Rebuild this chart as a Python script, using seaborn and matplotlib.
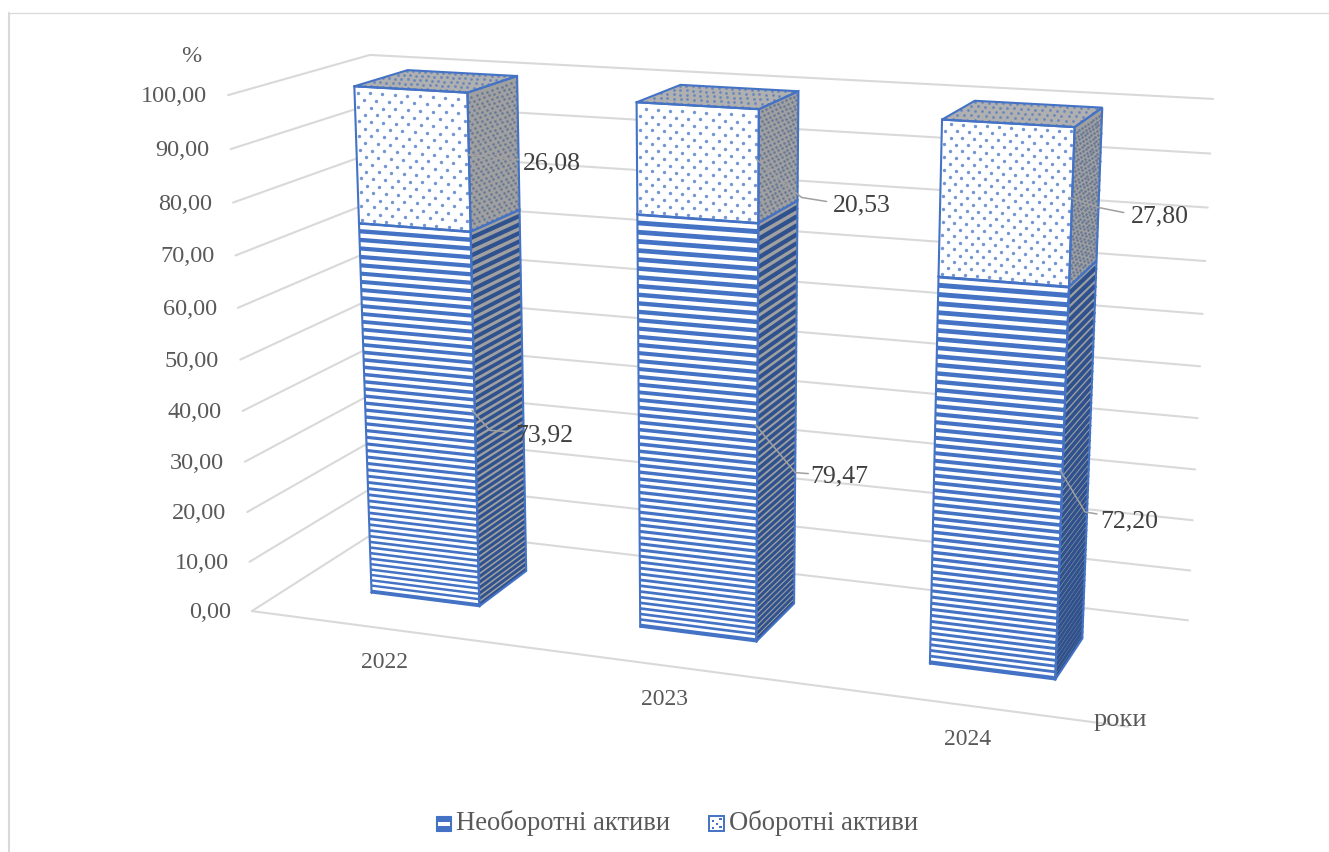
import numpy as np
import pandas as pd
import seaborn as sns
import matplotlib
matplotlib.use("Agg")
import matplotlib.pyplot as plt
from matplotlib.legend_handler import HandlerBase
from matplotlib.patches import Rectangle, Patch

# ---------- data ----------
years = ["2022", "2023", "2024"]
non_current = [73.92, 79.47, 72.20]
current = [26.08, 20.53, 27.80]
value_ticks = [0, 10, 20, 30, 40, 50, 60, 70, 80, 90, 100]
tick_labels = ["0,00", "10,00", "20,00", "30,00", "40,00", "50,00",
               "60,00", "70,00", "80,00", "90,00", "100,00"]
series_names = ["Необоротні активи", "Оборотні активи"]
non_current_labels = ["73,92", "79,47", "72,20"]
current_labels = ["26,08", "20,53", "27,80"]

# ---------- style ----------
sns.set_theme(style="white")
plt.rcParams["font.family"] = ["Liberation Serif", "DejaVu Serif"]
BLUE = "#4472C4"
DARK = "#2F528F"
GRAY = "#A0A0A0"
GRID = "#D9D9D9"
TXT = "#595959"
LBL = "#404040"

W, H = 1329, 852
fig = plt.figure(figsize=(W / 100, H / 100), dpi=100, facecolor="white")
ax = fig.add_axes([0, 0, 1, 1])
ax.set_xlim(0, W)
ax.set_ylim(H, 0)
ax.axis("off")

# ---------- 3-D camera: (category, depth, value) -> canvas ----------
cal_world = [(0, 0, 0), (0, 0, 100), (3, 0, 0), (0, 1, 0), (3, 1, 0), (0, 1, 100), (3, 1, 100)]
cal_canvas = [(252, 611), (228, 95), (1128, 727), (385, 526), (1188, 620), (370, 55), (1213, 99)]
A, b = [], []
for (x, d, v), (u, w) in zip(cal_world, cal_canvas):
    A.append([x, d, v, 1, 0, 0, 0, 0, -u * x, -u * d, -u * v]); b.append(u)
    A.append([0, 0, 0, 0, x, d, v, 1, -w * x, -w * d, -w * v]); b.append(w)
P = np.append(np.linalg.lstsq(np.array(A, float), np.array(b, float), rcond=None)[0], 1).reshape(3, 4)


def proj(x, d, v):
    x, d, v = np.broadcast_arrays(np.asarray(x, float), np.asarray(d, float), np.asarray(v, float))
    q = P @ np.stack([x, d, v, np.ones_like(x)])
    return q[0] / q[2], q[1] / q[2]


# ---------- walls / grid through seaborn ----------
rows = []
for v in value_ticks:
    for x, d in [(0, 0), (0, 1), (3, 1)]:
        u, w = proj(x, d, v)
        rows.append(dict(tick=v, px=float(u), py=float(w)))
for x, d in [(0, 0), (3, 0)]:
    u, w = proj(x, d, 0)
    rows.append(dict(tick=-1, px=float(u), py=float(w)))
grid = pd.DataFrame(rows)
sns.lineplot(data=grid, x="px", y="py", units="tick", estimator=None, sort=False,
             color=GRID, linewidth=1.5, ax=ax, legend=False, zorder=1)
ax.set_xlim(0, W)
ax.set_ylim(H, 0)

# chart-area frame (top and left only are in view)
ax.plot([9, W], [12.5, 12.5], color=GRID, lw=0.9, zorder=1)
ax.plot([9, 9], [12.5, H], color=GRID, lw=1.5, zorder=1)

X0, X1 = 0.295, 0.705
D0, D1 = 0.31, 0.705


def stripe_levels(limit):
    """Texture rows: the pattern spreads out towards the top of a bar."""
    out, v = [], 0.9
    while v < limit:
        out.append(v)
        v += 1.08 + 0.62 * v / 74
    out = np.array(out)
    return out * (limit - 0.7) / out[-1]


def face(pts, color, z):
    us, vs = zip(*[proj(*p) for p in pts])
    ax.fill(us, vs, facecolor=color, edgecolor="none", zorder=z)


def outline(pts, z, color=BLUE, lw=1.5):
    us, vs = zip(*[proj(*p) for p in pts + pts[:1]])
    ax.plot(us, vs, color=color, lw=lw, zorder=z, solid_joinstyle="miter")


for i, (lo, hi) in enumerate(zip(non_current, current)):
    xa, xb = i + X0, i + X1
    top = lo + hi
    z = 3 + i * 0.01
    levels = stripe_levels(lo)
    widths = np.gradient(levels) * 5.15 * 0.5 * 0.72

    # --- lower segment: front
    face([(xa, D0, 0), (xb, D0, 0), (xb, D0, lo), (xa, D0, lo)], BLUE, z)
    for v, lw in zip(levels, widths):
        us, vs = proj([xa, xb], D0, v)
        ax.plot(us, vs, color="white", lw=lw, solid_capstyle="butt", zorder=z)
    # --- lower segment: side
    face([(xb, D0, 0), (xb, D1, 0), (xb, D1, lo), (xb, D0, lo)], GRAY, z)
    for v, lw in zip(levels, widths):
        us, vs = proj(xb, [D0, D1], v - 0.5)
        ax.plot(us, vs, color=DARK, lw=lw, solid_capstyle="butt", zorder=z)

    # --- upper segment: front
    face([(xa, D0, lo), (xb, D0, lo), (xb, D0, top), (xa, D0, top)], "white", z)
    n_x = 9 + i
    for r, v in enumerate(np.arange(lo + 0.6, top - 0.3, 1.35 - 0.1 * i)):
        xs = xa + (xb - xa) * (np.arange(n_x) + 0.25 + 0.5 * (r % 2)) / n_x
        us, vs = proj(xs, D0, v)
        ax.scatter(us, vs, s=6, color=BLUE, linewidths=0, alpha=0.75, zorder=z)
    # --- upper segment: side
    face([(xb, D0, lo), (xb, D1, lo), (xb, D1, top), (xb, D0, top)], GRAY, z)
    for r, v in enumerate(np.arange(lo + 0.4, top - 0.2, 0.85)):
        ds = D0 + (D1 - D0) * (np.arange(10) + 0.25 + 0.5 * (r % 2)) / 10
        us, vs = proj(xb, ds, v)
        ax.scatter(us, vs, s=3.5, color=DARK, linewidths=0, alpha=0.5, zorder=z)
    # --- top
    face([(xa, D0, top), (xb, D0, top), (xb, D1, top), (xa, D1, top)], "#B0B0B0", z)
    for r, d in enumerate(np.linspace(D0 + 0.02, D1 - 0.02, 5)):
        xs = xa + (xb - xa) * (np.arange(18) + 0.25 + 0.5 * (r % 2)) / 18
        us, vs = proj(xs, d, top)
        ax.scatter(us, vs, s=4, color=BLUE, linewidths=0, alpha=0.65, zorder=z)

    # --- outlines
    outline([(xa, D0, 0), (xb, D0, 0), (xb, D0, lo), (xa, D0, lo)], z + 0.001)
    outline([(xa, D0, lo), (xb, D0, lo), (xb, D0, top), (xa, D0, top)], z + 0.001)
    outline([(xb, D0, 0), (xb, D1, 0), (xb, D1, lo), (xb, D0, lo)], z + 0.001)
    outline([(xb, D0, lo), (xb, D1, lo), (xb, D1, top), (xb, D0, top)], z + 0.001)
    outline([(xa, D0, top), (xb, D0, top), (xb, D1, top), (xa, D1, top)], z + 0.001)

# ---------- value tick labels ----------
for v, t in zip(value_ticks, tick_labels):
    u, w = proj(0, 0, v)
    ax.text(float(u) - 21, float(w) + 1.5, t, ha="right", va="center", fontsize=17.5, color=TXT, zorder=6)

# ---------- category labels ----------
for i, y in enumerate(years):
    u, w = proj(i + 0.5, 0, 0)
    ax.text(float(u), float(w) + 34, y, ha="center", va="center", fontsize=17, color=TXT, zorder=6)

ax.text(191, 56, "%", ha="center", va="center", fontsize=17.5, color=TXT, zorder=6)
ax.text(1120, 720, "роки", ha="center", va="center", fontsize=19, color=TXT, zorder=6)

# ---------- data labels with leader lines (offsets from the segment's edge) ----------
start_low = [(-3, -12), (-2, -12), (-2, -17)]
elbow_low = [(15, 8), (38, 36), (23, 25)]
end_low = [(33, 9), (51, 37), (35, 27)]
label_low = [(69, 13), (82, 40), (67, 34)]
start_up = [(-1, -8), (-2, -7), (-2, -10)]
elbow_up = [(37, -4), (43, 31), (27, 0)]
end_up = [(50, -3), (68, 35), (52, 5)]
label_up = [(83, 1), (103, 39), (88, 9)]

for i in range(3):
    lo, hi = non_current[i], current[i]
    xb = i + X1
    for mid, txt, st, el, en, la in [
        (lo / 2, non_current_labels[i], start_low[i], elbow_low[i], end_low[i], label_low[i]),
        (lo + hi / 2, current_labels[i], start_up[i], elbow_up[i], end_up[i], label_up[i]),
    ]:
        u, w = proj(xb, D0, mid)
        u, w = float(u), float(w)
        ax.plot([u + st[0], u + el[0], u + en[0]], [w + st[1], w + el[1], w + en[1]],
                color=GRAY, lw=1.1, zorder=5)
        ax.text(u + la[0], w + la[1], txt, ha="center", va="center", fontsize=18.5, color=LBL, zorder=6)


# ---------- legend ----------
class StripeKey(HandlerBase):
    def create_artists(self, legend, orig, x0, y0, width, height, fontsize, trans):
        s = min(width, height)
        return [Rectangle((x0, y0), s, s, fc=BLUE, ec=BLUE, lw=0.8, transform=trans),
                Rectangle((x0 + 0.1 * s, y0 + 0.33 * s), 0.8 * s, 0.3 * s, fc="white", ec="none", transform=trans)]


class DotKey(HandlerBase):
    def create_artists(self, legend, orig, x0, y0, width, height, fontsize, trans):
        s = min(width, height)
        out = [Rectangle((x0, y0), s, s, fc="white", ec=BLUE, lw=1.4, transform=trans)]
        for fx, fy in [(0.2, 0.65), (0.7, 0.75), (0.45, 0.4), (0.2, 0.15), (0.7, 0.2)]:
            out.append(Rectangle((x0 + fx * s, y0 + fy * s), 0.14 * s, 0.14 * s, fc=BLUE, ec="none", transform=trans))
        return out


h1, h2 = Patch(label=series_names[0]), Patch(label=series_names[1])
leg = ax.legend(handles=[h1, h2], labels=series_names, ncol=2, frameon=False,
                handler_map={h1: StripeKey(), h2: DotKey()},
                loc="center", bbox_to_anchor=(677 / W, 1 - 823 / H), bbox_transform=fig.transFigure,
                fontsize=19.2, labelcolor=TXT, handlelength=0.56, handleheight=0.56,
                handletextpad=0.18, columnspacing=1.46, borderpad=0)
for t in leg.get_texts():
    t.set_zorder(6)

fig.savefig("out.png", dpi=100, facecolor="white")
